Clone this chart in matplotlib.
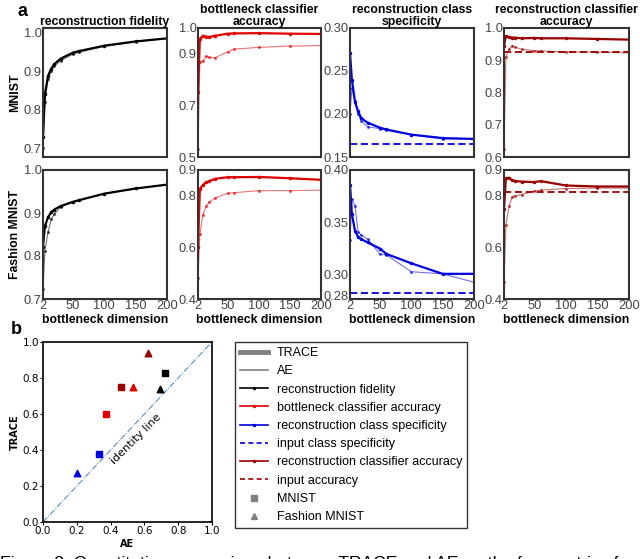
import matplotlib
matplotlib.use("Agg")
import matplotlib.pyplot as plt
from matplotlib.lines import Line2D

plt.rcParams['font.family'] = ['Liberation Sans', 'DejaVu Sans']

# bottleneck dimensions shared by every curve
dims = [2, 5, 10, 15, 20, 30, 50, 60, 100, 150, 200]

# MNIST (TRACE / AE)
mn_fid_trace = [0.73, 0.84, 0.888, 0.907, 0.919, 0.933, 0.949, 0.953, 0.967, 0.978, 0.986]
mn_fid_ae = [0.70, 0.82, 0.880, 0.900, 0.913, 0.928, 0.945, 0.950, 0.965, 0.977, 0.986]
mn_bot_trace = [0.75, 0.958, 0.970, 0.967, 0.965, 0.970, 0.978, 0.979, 0.980, 0.978, 0.977]
mn_bot_ae = [0.53, 0.870, 0.872, 0.890, 0.886, 0.885, 0.908, 0.918, 0.925, 0.930, 0.932]
mn_spec_trace = [0.271, 0.240, 0.214, 0.203, 0.195, 0.190, 0.184, 0.182, 0.176, 0.172, 0.171]
mn_spec_ae = [0.200, 0.230, 0.215, 0.200, 0.192, 0.185, 0.183, 0.181, 0.176, 0.171, 0.171]
mn_spec_input = 0.165
mn_rec_trace = [0.945, 0.975, 0.972, 0.970, 0.970, 0.968, 0.969, 0.968, 0.968, 0.966, 0.964]
mn_rec_ae = [0.625, 0.910, 0.935, 0.945, 0.940, 0.934, 0.930, 0.929, 0.926, 0.925, 0.923]
mn_rec_input = 0.925

# Fashion MNIST (TRACE / AE)
fa_fid_trace = [0.822, 0.869, 0.890, 0.902, 0.908, 0.916, 0.926, 0.930, 0.945, 0.957, 0.966]
fa_fid_ae = [0.723, 0.812, 0.855, 0.885, 0.897, 0.914, 0.926, 0.930, 0.945, 0.957, 0.966]
fa_bot_trace = [0.60, 0.827, 0.842, 0.852, 0.857, 0.866, 0.872, 0.872, 0.873, 0.868, 0.862]
fa_bot_ae = [0.48, 0.650, 0.727, 0.760, 0.775, 0.792, 0.810, 0.812, 0.820, 0.820, 0.822]
fa_spec_trace = [0.386, 0.358, 0.342, 0.336, 0.334, 0.331, 0.325, 0.320, 0.311, 0.301, 0.301]
fa_spec_ae = [0.333, 0.372, 0.366, 0.341, 0.338, 0.334, 0.320, 0.319, 0.303, 0.301, 0.293]
fa_spec_input = 0.2825
fa_rec_trace = [0.748, 0.868, 0.870, 0.860, 0.857, 0.855, 0.853, 0.857, 0.840, 0.836, 0.836]
fa_rec_ae = [0.465, 0.687, 0.760, 0.797, 0.800, 0.805, 0.818, 0.822, 0.828, 0.830, 0.830]
fa_rec_input = 0.816

# panel b: AE vs TRACE summary
sq_ae = [0.72, 0.37, 0.33, 0.46]
sq_trace = [0.83, 0.60, 0.38, 0.75]
tri_ae = [0.69, 0.53, 0.20, 0.62]
tri_trace = [0.74, 0.75, 0.27, 0.94]

BLACK, RED, BLUE, DRED = 'black', '#e00000', '#0000e0', '#990000'
metric_colors = [BLACK, RED, BLUE, DRED]
titles = ['reconstruction fidelity', 'bottleneck classifier\naccuracy',
          'reconstruction class\nspecificity', 'reconstruction classifier\naccuracy']

W, H = 640, 559
fig = plt.figure(figsize=(6.4, 5.59), dpi=100)


def px_axes(x0, y0, x1, y1):
    return fig.add_axes([x0 / W, 1 - y1 / H, (x1 - x0) / W, (y1 - y0) / H])


cols = [(43, 167), (198, 321), (350, 474), (504, 629)]
rows = [(28, 157), (170, 299)]

data = [
    [(mn_fid_trace, mn_fid_ae, None), (mn_bot_trace, mn_bot_ae, None),
     (mn_spec_trace, mn_spec_ae, mn_spec_input), (mn_rec_trace, mn_rec_ae, mn_rec_input)],
    [(fa_fid_trace, fa_fid_ae, None), (fa_bot_trace, fa_bot_ae, None),
     (fa_spec_trace, fa_spec_ae, fa_spec_input), (fa_rec_trace, fa_rec_ae, fa_rec_input)],
]
ylims = [
    [(0.677, 1.013), (0.5, 1.0), (0.15, 0.30), (0.6, 1.0)],
    [(0.7, 1.0), (0.4, 0.9), (0.277, 0.40), (0.4, 0.9)],
]
yticks = [
    [[0.7, 0.8, 0.9, 1.0], [0.5, 0.7, 0.9, 1.0], [0.15, 0.20, 0.25, 0.30], [0.6, 0.7, 0.8, 0.9, 1.0]],
    [[0.7, 0.8, 0.9, 1.0], [0.4, 0.6, 0.8, 0.9], [0.28, 0.30, 0.35, 0.40], [0.4, 0.6, 0.8, 0.9]],
]
ytlabels = [
    [['0.7', '0.8', '0.9', '1.0'], ['0.5', '0.7', '0.9', '1.0'], ['0.15', '0.20', '0.25', '0.30'],
     ['0.6', '0.7', '0.8', '0.9', '1.0']],
    [['0.7', '0.8', '0.9', '1.0'], ['0.4', '0.6', '0.8', '0.9'], ['0.28', '0.30', '0.35', '0.40'],
     ['0.4', '0.6', '0.8', '0.9']],
]

for r, (y0, y1) in enumerate(rows):
    for c, (x0, x1) in enumerate(cols):
        ax = px_axes(x0, y0, x1, y1)
        tr, ae, inp = data[r][c]
        col = metric_colors[c]
        ax.plot(dims, ae, '-', color=col, lw=0.8, alpha=0.55, marker='.', ms=2.5)
        ax.plot(dims, tr, '-', color=col, lw=1.6, marker='.', ms=3)
        if inp is not None:
            ax.axhline(inp, color=col, lw=1.3, ls=(0, (4, 2)))
        ax.set_xlim(2, 200)
        ax.set_ylim(*ylims[r][c])
        ax.set_yticks(yticks[r][c])
        ax.set_yticklabels(ytlabels[r][c])
        ax.set_xticks([2, 50, 100, 150, 200])
        if r == 0:
            ax.set_xticklabels([])
            ax.set_title(titles[c], fontsize=8.8, fontweight='bold', pad=1, linespacing=0.95)
        else:
            ax.set_xlabel('bottleneck dimension', fontsize=8.8, fontweight='bold', labelpad=1)
        ax.tick_params(length=0, labelsize=9.3, labelcolor='#444444', pad=1)
        for s in ax.spines.values():
            s.set_linewidth(1.5)
            s.set_color('#333333')

fig.text(15 / W, 1 - 93 / H, 'MNIST', rotation=90, fontsize=8.8, fontweight='bold',
         ha='center', va='center')
fig.text(15 / W, 1 - 234 / H, 'Fashion MNIST', rotation=90, fontsize=8.8, fontweight='bold',
         ha='center', va='center')
fig.text(22 / W, 1 - 12 / H, 'a', fontsize=13, fontweight='bold', ha='center', va='center')
fig.text(16 / W, 1 - 329 / H, 'b', fontsize=13, fontweight='bold', ha='center', va='center')

# panel b
axb = px_axes(43, 342, 212, 522)
axb.plot([0, 1], [0, 1], ls='-.', color='#4a7fb5', lw=0.7)
for i in range(4):
    axb.scatter(sq_ae[i], sq_trace[i], marker='s', s=22, color=metric_colors[i], zorder=3)
    axb.scatter(tri_ae[i], tri_trace[i], marker='^', s=22, color=metric_colors[i], zorder=3)
axb.text(0.55, 0.46, 'identity line', rotation=45, fontsize=8, family='DejaVu Sans',
         ha='center', va='center')
axb.set_xlim(0, 1)
axb.set_ylim(0, 1)
axb.set_xticks([0, 0.2, 0.4, 0.6, 0.8, 1.0])
axb.set_yticks([0, 0.2, 0.4, 0.6, 0.8, 1.0])
axb.tick_params(length=2, labelsize=7.5, pad=1)
for lab in axb.get_xticklabels() + axb.get_yticklabels():
    lab.set_family('DejaVu Sans')
axb.set_xlabel('AE', fontsize=7, fontweight='bold', family='DejaVu Sans', labelpad=2)
axb.set_ylabel('TRACE', fontsize=7, fontweight='bold', family='DejaVu Sans', labelpad=2)
for s in axb.spines.values():
    s.set_linewidth(1.2)

# legend
handles = [
    Line2D([], [], color='gray', lw=3.5),
    Line2D([], [], color='gray', lw=1.2),
    Line2D([], [], color=BLACK, lw=1.2, marker='.', ms=3),
    Line2D([], [], color=RED, lw=1.2, marker='.', ms=3),
    Line2D([], [], color=BLUE, lw=1.2, marker='.', ms=3),
    Line2D([], [], color=BLUE, lw=1.2, ls=(0, (3, 2))),
    Line2D([], [], color=DRED, lw=1.2, marker='.', ms=3),
    Line2D([], [], color=DRED, lw=1.2, ls=(0, (3, 2))),
    Line2D([], [], color='gray', lw=0, marker='s', ms=5),
    Line2D([], [], color='gray', lw=0, marker='^', ms=5),
]
labels = ['TRACE', 'AE', 'reconstruction fidelity', 'bottleneck classifier accuracy',
          'reconstruction class specificity', 'input class specificity',
          'reconstruction classifier accuracy', 'input accuracy', 'MNIST', 'Fashion MNIST']
leg = fig.legend(handles, labels, loc='upper left', bbox_to_anchor=(235 / W, 1 - 342 / H),
                 fontsize=9, frameon=True, fancybox=False, edgecolor='black',
                 labelspacing=0.5, handlelength=2.2, borderpad=0.4, handletextpad=0.75,
                 borderaxespad=0)
leg.get_frame().set_linewidth(1.0)

fig.text(0, 1 - 556 / H, 'Figure 3: Quantitative comparison between TRACE and AE on the four metrics for',
         fontsize=12.6, ha='left', va='top')

fig.savefig('out.png', dpi=100)
